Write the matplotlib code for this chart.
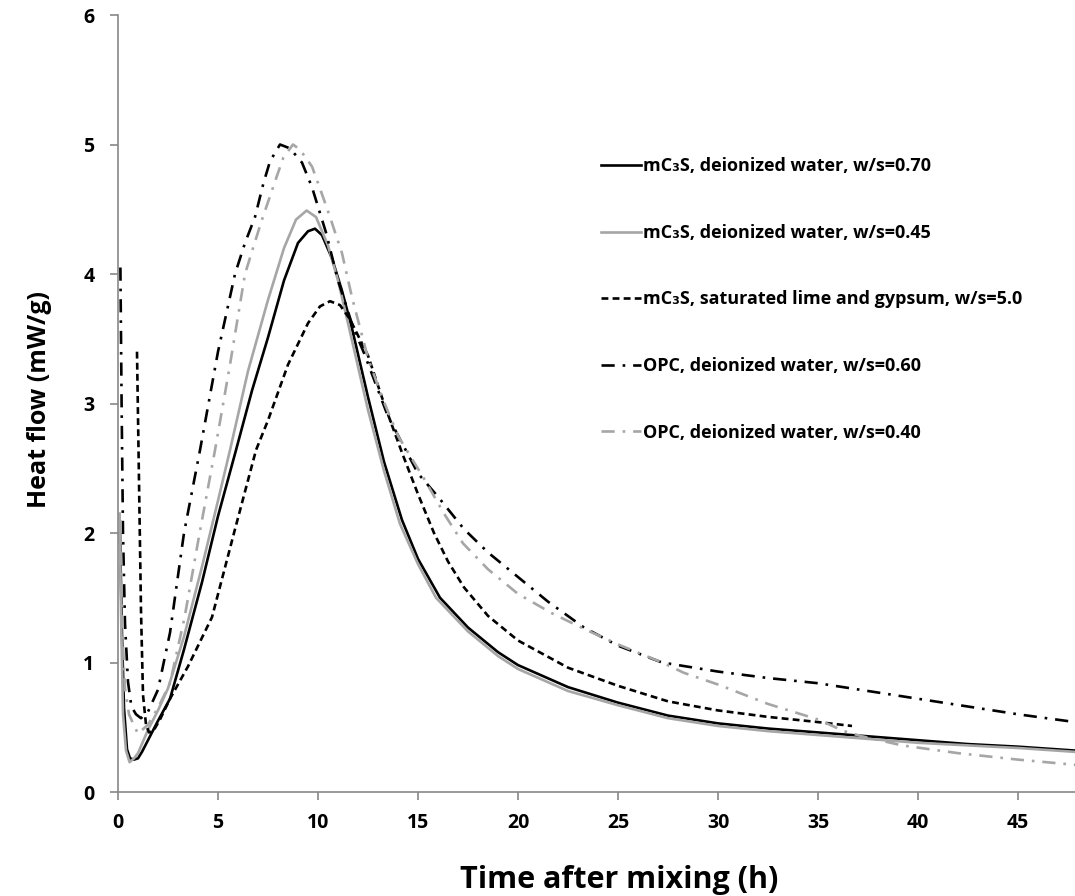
import matplotlib.pyplot as plt

plt.rcParams['font.family'] = ['Open Sans', 'DejaVu Sans']
plt.rcParams['font.weight'] = 'bold'

# mC3S, deionized water, w/s=0.70
x_s70 = [0.1, 0.2, 0.3, 0.45, 0.6, 0.8, 1.0, 1.2, 1.5, 2.0, 2.6, 3.3, 4.2, 5.0, 5.9, 6.7, 7.5,
         8.3, 9.0, 9.5, 9.85, 10.2, 10.7, 11.2, 11.7, 12.5, 13.3, 14.2, 15.0, 16.1, 17.5, 19.0,
         20.0, 22.5, 25, 27.5, 30, 32.5, 35, 37.5, 40, 42.5, 45, 47.85]
y_s70 = [2.0, 1.2, 0.65, 0.33, 0.26, 0.25, 0.26, 0.31, 0.40, 0.55, 0.72, 1.10, 1.62, 2.13, 2.64, 3.1, 3.51,
         3.95, 4.24, 4.33, 4.35, 4.3, 4.12, 3.87, 3.58, 3.05, 2.55, 2.1, 1.8, 1.5, 1.27, 1.08,
         0.98, 0.81, 0.69, 0.59, 0.53, 0.49, 0.46, 0.43, 0.40, 0.37, 0.35, 0.32]

# mC3S, deionized water, w/s=0.45
x_s45 = [0.08, 0.15, 0.25, 0.4, 0.58, 0.8, 1.0, 1.5, 2.0, 2.5, 3.3, 4.2, 5.0, 5.6, 6.5, 7.5, 8.3,
         8.9, 9.43, 9.9, 10.5, 11.0, 11.5, 12.5, 13.3, 14.1, 15.0, 15.9, 17.5, 19, 20, 22.5, 25,
         27.5, 30, 32.5, 35, 37.5, 40, 42.5, 45, 47.85]
y_s45 = [2.15, 1.4, 0.6, 0.32, 0.23, 0.26, 0.3, 0.48, 0.63, 0.8, 1.2, 1.74, 2.25, 2.64, 3.25, 3.8, 4.2,
         4.42, 4.49, 4.44, 4.22, 3.95, 3.62, 2.95, 2.48, 2.07, 1.76, 1.5, 1.24, 1.05, 0.95, 0.78, 0.67,
         0.57, 0.51, 0.47, 0.44, 0.41, 0.38, 0.36, 0.34, 0.31]

# mC3S, saturated lime and gypsum, w/s=5.0
x_lime = [0.95, 1.05, 1.15, 1.25, 1.4, 1.55, 1.8, 2.1, 2.6, 3.5, 4.7, 5.8, 6.9, 7.5, 8.5, 9.5,
          10.1, 10.6, 11.1, 11.6, 12.5, 13.3, 14.2, 15.0, 15.8, 16.5, 17.3, 18.5, 20, 22.5, 25,
          27.5, 30, 32.5, 35, 36.7]
y_lime = [3.4, 2.4, 1.4, 0.75, 0.52, 0.46, 0.48, 0.56, 0.72, 0.97, 1.35, 2.0, 2.64, 2.87, 3.3, 3.62,
          3.75, 3.79, 3.76, 3.65, 3.37, 3.0, 2.62, 2.3, 2.0, 1.78, 1.58, 1.36, 1.17, 0.96, 0.82,
          0.70, 0.63, 0.58, 0.54, 0.51]

# OPC, deionized water, w/s=0.60
x_o60 = [0.12, 0.18, 0.25, 0.35, 0.5, 0.67, 0.9, 1.15, 1.5, 2.0, 2.6, 3.3, 4.1, 5.0, 5.85, 6.35,
         6.85, 7.27, 7.6, 8.1, 8.6, 9.2, 9.7, 10.0, 10.4, 11.0, 11.75, 12.3, 13.5, 15.0, 16.0, 17.3,
         18.5, 20, 21.5, 23.3, 25, 27.2, 30, 32.5, 35, 37.5, 40, 42.5, 45, 47.85]
y_o60 = [4.05, 3.0, 2.0, 1.3, 0.85, 0.66, 0.6, 0.57, 0.62, 0.79, 1.23, 2.0, 2.64, 3.4, 4.0, 4.24,
         4.44, 4.7, 4.87, 5.0, 4.97, 4.86, 4.67, 4.52, 4.32, 3.95, 3.59, 3.39, 2.9, 2.46, 2.28, 2.03,
         1.85, 1.66, 1.47, 1.27, 1.13, 1.0, 0.93, 0.88, 0.84, 0.78, 0.72, 0.66, 0.6, 0.54]

# OPC, deionized water, w/s=0.40
x_o40 = [0.12, 0.2, 0.35, 0.55, 0.75, 1.0, 1.5, 2.0, 2.6, 3.33, 4.08, 4.85, 5.6, 6.35, 6.77, 7.2,
         7.6, 7.93, 8.27, 8.75, 9.1, 9.7, 10.1, 10.6, 11.2, 11.7, 12.5, 13.2, 14.0, 15.3, 16.3,
         17.25, 18.5, 20, 21.7, 23.3, 25, 27.2, 28.3, 30, 32.5, 35, 36.3, 37.2, 39.2, 42, 45, 47.85]
y_o40 = [2.1, 1.3, 0.8, 0.6, 0.53, 0.45, 0.52, 0.65, 0.84, 1.35, 2.0, 2.64, 3.3, 4.0, 4.21, 4.42,
         4.6, 4.75, 4.9, 5.0, 4.96, 4.83, 4.66, 4.44, 4.16, 3.82, 3.35, 3.05, 2.75, 2.42, 2.15,
         1.92, 1.72, 1.53, 1.38, 1.26, 1.14, 1.0, 0.92, 0.83, 0.68, 0.56, 0.47, 0.43, 0.36, 0.30, 0.25, 0.21]

labels = ['mC\u2083S, deionized water, w/s=0.70',
          'mC\u2083S, deionized water, w/s=0.45',
          'mC\u2083S, saturated lime and gypsum, w/s=5.0',
          'OPC, deionized water, w/s=0.60',
          'OPC, deionized water, w/s=0.40']

grey = '#a6a6a6'
lw = 1.9

fig = plt.figure(figsize=(10.75, 8.96), dpi=100)
ax = fig.add_axes([118/1075, 104/896, 957/1075, 777/896])

ax.plot(x_s70, y_s70, color='black', lw=lw, label=labels[0])
ax.plot(x_s45, y_s45, color=grey, lw=lw, label=labels[1])
ax.plot(x_lime, y_lime, color='black', lw=lw, dashes=(2.6, 1.6), label=labels[2])
ax.plot(x_o60, y_o60, color='black', lw=lw, dashes=(5, 3, 1, 3), label=labels[3])
ax.plot(x_o40, y_o40, color=grey, lw=lw, dashes=(5, 3, 1, 3), label=labels[4])

ax.set_xlim(0, 47.85)
ax.set_ylim(0, 6)
ax.set_xticks(range(0, 50, 5))
ax.set_yticks(range(0, 7))
for s in ['top', 'right']:
    ax.spines[s].set_visible(False)
for s in ['left', 'bottom']:
    ax.spines[s].set_color('#888888')
    ax.spines[s].set_linewidth(1.2)
ax.tick_params(axis='both', direction='out', length=6, width=1.2, color='#888888',
               labelsize=14, pad=9)
ax.tick_params(axis='y', pad=11)
for t in ax.get_xticklabels() + ax.get_yticklabels():
    t.set_fontweight('bold')

fig.text(619/1075, 1 - 880/896, 'Time after mixing (h)', ha='center', va='center',
         fontsize=22, fontweight='bold')
fig.text(40/1075, 1 - 400/896, 'Heat flow (mW/g)', ha='center', va='center',
         rotation=90, fontsize=18, fontweight='bold')

leg = ax.legend(loc='upper left', bbox_to_anchor=(585/1075, 1 - 141/896),
                bbox_transform=fig.transFigure, frameon=False, fontsize=13,
                handlelength=2.2, handletextpad=0.1, labelspacing=2.69)
for t in leg.get_texts():
    t.set_fontweight('bold')

fig.savefig('out.png', dpi=100)
